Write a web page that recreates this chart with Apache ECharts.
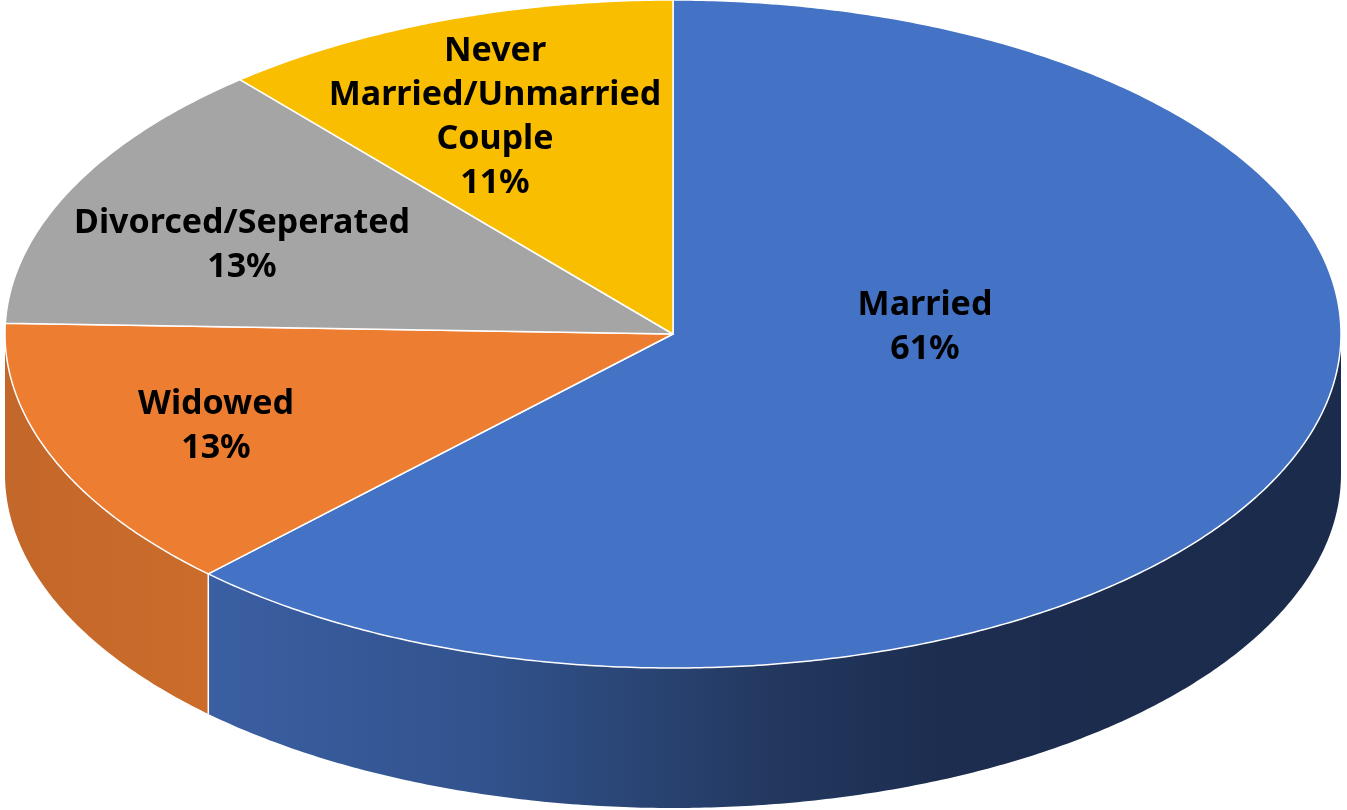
<!DOCTYPE html>
<html>
<head>
<meta charset="utf-8">
<script src="https://cdn.jsdelivr.net/npm/echarts@6/dist/echarts.min.js"></script>
<style>
  html, body { margin: 0; padding: 0; background: #fff; }
  #main { width: 1347px; height: 810px; }
</style>
</head>
<body>
<div id="main"></div>
<script>
// data
var categories = ['Married', 'Widowed', 'Divorced/Seperated', 'Never Married/Unmarried Couple'];
var values = [61, 13, 13, 11];
var labelText = ['Married\n61%', 'Widowed\n13%', 'Divorced/Seperated\n13%', 'Never\nMarried/Unmarried\nCouple\n11%'];

// look
var topColors = ['#4472C4', '#ED7D31', '#A5A5A5', '#F9BE00'];
var sideColors = [
  [[0, '#3B5FA3'], [0.25, '#31528C'], [0.5, '#23385F'], [0.65, '#1C2D4F'], [1, '#1B2B4C']],
  [[0, '#C3672A'], [1, '#CB6C2B']],
  [[0, '#7f7f7f'], [1, '#8a8a8a']],
  [[0, '#c09000'], [1, '#c89800']]
];
// ellipse geometry (px)
var cx = 673, cy = 334, rx = 668, ry = 334, depth = 140;
// label centres (px)
var labelAt = [[925, 327], [216, 426], [242, 245], [495, 117]];

var total = values.reduce(function (a, b) { return a + b; }, 0);
var starts = [];
var acc = 0;
values.forEach(function (v) { starts.push(acc / total * 360); acc += v; });

function pt(deg, dy) {
  var r = deg * Math.PI / 180;
  return [cx + rx * Math.sin(r), cy - ry * Math.cos(r) + (dy || 0)];
}

function arc(a0, a1, dy) {
  var pts = [];
  var n = Math.max(2, Math.ceil((a1 - a0) / 0.5));
  for (var i = 0; i <= n; i++) pts.push(pt(a0 + (a1 - a0) * i / n, dy));
  return pts;
}

var myChart = echarts.init(document.getElementById('main'));

function renderItem(params, api) {
  var i = params.dataIndex;
  var a0 = starts[i];
  var a1 = a0 + api.value(0) / total * 360;
  var children = [];

  // front wall (visible between 90 and 270 deg)
  var s0 = Math.max(a0, 90), s1 = Math.min(a1, 270);
  if (s1 > s0) {
    var topEdge = arc(s0, s1, 0);
    var botEdge = arc(s0, s1, depth).reverse();
    children.push({
      type: 'polygon',
      z2: 1,
      shape: { points: topEdge.concat(botEdge) },
      style: {
        fill: new echarts.graphic.LinearGradient(0, 0, 1, 0,
          sideColors[i].map(function (s) { return { offset: s[0], color: s[1] }; })),
        stroke: null
      }
    });
    // seam line where two walls meet
    if (s0 > 90 && s0 < 270) {
      var p = pt(s0, 0);
      children.push({
        type: 'line',
        z2: 2,
        shape: { x1: p[0], y1: p[1], x2: p[0], y2: p[1] + depth },
        style: { stroke: '#ffffff', lineWidth: 1.5 }
      });
    }
  }

  // top face
  children.push({
    type: 'polygon',
    z2: 10,
    shape: { points: [[cx, cy]].concat(arc(a0, a1, 0)) },
    style: { fill: topColors[i], stroke: '#ffffff', lineWidth: 1.5, lineJoin: 'round' }
  });

  children.push({
    type: 'text',
    z2: 20,
    x: labelAt[i][0],
    y: labelAt[i][1],
    style: {
      text: labelText[i],
      align: 'center',
      verticalAlign: 'middle',
      fill: '#000000',
      font: 'bold 34px "Noto Sans", sans-serif',
      lineHeight: 44
    }
  });

  return { type: 'group', children: children };
}

var option = {
  animation: false,
  series: [
    {
      type: 'custom',
      coordinateSystem: 'none',
      renderItem: renderItem,
      data: values.map(function (v, k) { return { name: categories[k], value: [v] }; })
    }
  ]
};
myChart.setOption(option);
</script>
</body>
</html>
